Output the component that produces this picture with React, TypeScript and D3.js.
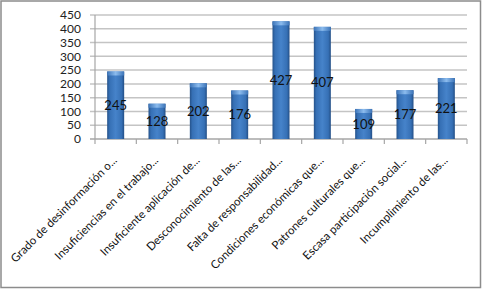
import React from "react";
import * as d3 from "d3";

const categories = [
  "Grado de desinformación o...",
  "Insuficiencias en el trabajo...",
  "Insuficiente aplicación de...",
  "Desconocimiento de las...",
  "Falta de responsabilidad...",
  "Condiciones económicas que...",
  "Patrones culturales que...",
  "Escasa participación social...",
  "Incumplimiento de las...",
];
const values = [245, 128, 202, 176, 427, 407, 109, 177, 221];
const yTicks = [0, 50, 100, 150, 200, 250, 300, 350, 400, 450];

const W = 482;
const H = 289;
const left = 95;
const right = 467;
const top = 15;
const bottom = 139;
const font = "Lato, 'Open Sans', 'DejaVu Sans', sans-serif";

export default function App() {
  const x = d3.scaleBand<string>().domain(categories).range([left, right]).paddingInner(0).paddingOuter(0);
  const y = d3.scaleLinear().domain([0, 450]).range([bottom, top]);
  const bw = 17;
  return (
    <svg width={W} height={H} style={{ position: "absolute", left: 0, top: 0 }} fontFamily={font}>
      <defs>
        <linearGradient id="bar" x1="0" x2="1" y1="0" y2="0">
          <stop offset="0" stopColor="#25528a" />
          <stop offset="0.15" stopColor="#3670b5" />
          <stop offset="0.5" stopColor="#4683ca" />
          <stop offset="0.85" stopColor="#3670b5" />
          <stop offset="1" stopColor="#234e85" />
        </linearGradient>
        <linearGradient id="cap" x1="0" x2="1" y1="0" y2="0">
          <stop offset="0" stopColor="#3c74b8" />
          <stop offset="0.5" stopColor="#8cbcee" />
          <stop offset="1" stopColor="#3c74b8" />
        </linearGradient>
      </defs>
      <rect x={1} y={1} width={W - 2.5} height={H - 2.5} fill="#fff" stroke="#8c8c8c" strokeWidth={1.5} />
      {yTicks.map((t) => (
        <g key={t}>
          <line x1={left - 5} x2={right} y1={y(t)} y2={y(t)} stroke={t === 0 ? "#a6a6a6" : "#c4c4c4"} strokeWidth={1.5} />
          <text x={left - 14} y={y(t)} dy="0.35em" textAnchor="end" fontSize={12} fill="#222">
            {t}
          </text>
        </g>
      ))}
      <line x1={left} x2={left} y1={top} y2={bottom} stroke="#a6a6a6" strokeWidth={1.2} />
      {categories.map((c, i) => (
        <line key={"tk" + i} x1={(x(c) as number) + x.bandwidth()} x2={(x(c) as number) + x.bandwidth()} y1={bottom} y2={bottom + 5} stroke="#a6a6a6" strokeWidth={1.2} />
      ))}
      <line x1={left} x2={left} y1={bottom} y2={bottom + 5} stroke="#a6a6a6" strokeWidth={1.2} />
      {categories.map((c, i) => {
        const cx = (x(c) as number) + x.bandwidth() / 2;
        const y0 = y(values[i]);
        return (
          <g key={c}>
            <rect x={cx - bw / 2} y={y0} width={bw} height={bottom - y0} fill="url(#bar)" />
            <rect x={cx - bw / 2} y={y0} width={bw} height={4} fill="url(#cap)" />
            <text x={cx} y={(y0 + bottom) / 2} dy="0.35em" textAnchor="middle" fontSize={13} fill="#111">
              {values[i]}
            </text>
          </g>
        );
      })}
      {categories.map((c) => {
        const cx = (x(c) as number) + x.bandwidth() / 2;
        return (
          <text key={"l" + c} transform={`translate(${cx + 2},${161}) rotate(-45)`} textAnchor="end" fontSize={11.5} fill="#111">
            {c}
          </text>
        );
      })}
    </svg>
  );
}
